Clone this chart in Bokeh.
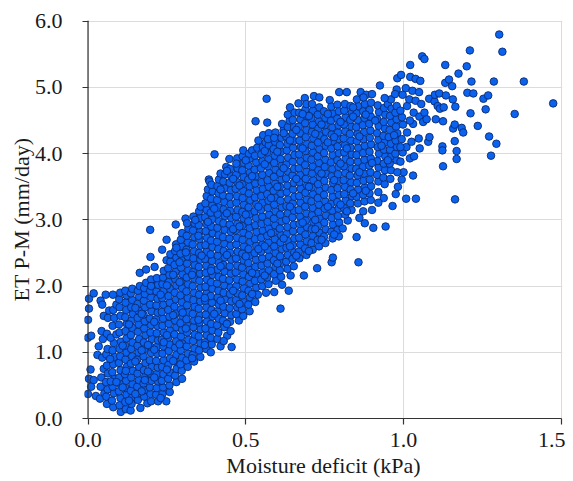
from bokeh.embed import file_html
from bokeh.resources import INLINE
from bokeh.plotting import figure
from bokeh.models import ColumnDataSource, FixedTicker, NumeralTickFormatter, Span

X_TICKS = [0.0, 0.5, 1.0, 1.5]
Y_TICKS = [0.0, 1.0, 2.0, 3.0, 4.0, 5.0, 6.0]
X_TITLE = "Moisture deficit (kPa)"
Y_TITLE = "ET P-M (mm/day)"

# (moisture deficit, ET), grouped by deficit band
band_00 = [(.003,1.81),(.018,1.89),(.003,1.66),(.0,1.49),(.0,1.22),(.01,1.25),(.034,1.09),(.04,1.78),(.045,1.72),(.056,1.87),(.008,.74),(.003,.6),(.018,.58),(.0,.37),(.01,.48),(.04,.48),(.043,1.32),(.03,.96),(.025,.34),(.038,.3),(.045,.92),(.05,1.55),(.047,1.2),(.042,.62),(.05,.75),(.052,.38)]
band_06 = [(.06,.22),(.058,.33),(.062,.44),(.057,.55),(.063,.68),(.06,.8),(.058,.97),(.062,1.05),(.06,1.28),(.063,1.52),(.067,1.63),(.08,.17),(.076,.27),(.082,.38),(.078,.48),(.083,.6),(.077,.7),(.08,.82),(.084,.93),(.078,1.03),(.082,1.14),(.078,1.4),(.083,1.52),(.08,1.64),(.079,1.87),(.072,1.22),(.07,.9),(.072,.56),(.09,1.27),(.09,1.72)]
band_10 = [(.104,.1),(.1,.2),(.103,.31),(.098,.41),(.102,.52),(.099,.62),(.103,.73),(.098,.84),(.102,.94),(.1,1.05),(.104,1.16),(.1,1.3),(.098,1.42),(.103,1.55),(.1,1.68),(.099,1.8),(.102,1.9),(.12,.14),(.118,.25),(.122,.36),(.119,.46),(.121,.57),(.117,.67),(.123,.78),(.119,.89),(.122,1.0),(.118,1.1),(.122,1.21),(.119,1.32),(.123,1.43),(.118,1.53),(.121,1.64),(.119,1.75),(.122,1.86),(.118,1.93),
 (.135,.12),(.138,.22),(.14,.32),(.136,.42),(.141,.52),(.137,.62),(.142,.72),(.136,.83),(.14,.94),(.137,1.05),(.141,1.15),(.136,1.26),(.14,1.37),(.138,1.48),(.142,1.58),(.137,1.68),(.14,1.79),(.136,1.89),(.14,1.96)]
band_16 = [(.166,.16),(.158,.28),(.16,.38),(.156,.48),(.161,.58),(.157,.68),(.162,.78),(.156,.89),(.16,1.0),(.157,1.1),(.162,1.2),(.158,1.31),(.161,1.42),(.157,1.52),(.16,1.63),(.157,1.73),(.162,1.84),(.158,1.93),(.164,2.0),(.164,2.2),
 (.188,.23),(.178,.33),(.18,.43),(.176,.53),(.181,.63),(.177,.73),(.182,.84),(.176,.94),(.18,1.05),(.177,1.15),(.182,1.26),(.178,1.36),(.18,1.47),(.176,1.57),(.181,1.68),(.177,1.78),(.18,1.88),(.178,1.97),(.184,2.05),(.184,2.25),(.197,2.85),(.198,2.44),
 (.2,.26),(.198,.37),(.196,.47),(.201,.57),(.197,.68),(.202,.78),(.196,.88),(.2,.99),(.197,1.09),(.202,1.2),(.198,1.3),(.2,1.41),(.196,1.51),(.201,1.62),(.197,1.72),(.2,1.83),(.197,1.93),(.202,2.03),(.2,2.1)]
band_22 = [(.222,.26),(.216,.36),(.218,.46),(.222,.56),(.217,.67),(.221,.77),(.216,.87),(.22,.98),(.217,1.08),(.222,1.18),(.218,1.29),(.22,1.4),(.216,1.5),(.221,1.6),(.217,1.71),(.22,1.81),(.217,1.92),(.222,2.02),(.218,2.12),(.211,2.29),
 (.248,.26),(.236,.37),(.238,.47),(.234,.57),(.239,.67),(.235,.78),(.24,.88),(.236,.98),(.239,1.09),(.234,1.19),(.24,1.3),(.236,1.4),(.238,1.51),(.234,1.61),(.239,1.72),(.235,1.82),(.24,1.93),(.236,2.03),(.238,2.13),(.24,2.23),(.235,2.55),(.249,2.7),(.249,2.39),
 (.259,.4),(.258,.5),(.254,.6),(.259,.7),(.255,.81),(.26,.91),(.256,1.02),(.259,1.12),(.254,1.22),(.26,1.33),(.256,1.43),(.258,1.54),(.254,1.64),(.259,1.75),(.255,1.85),(.26,1.96),(.256,2.06),(.258,2.17),(.254,2.27),(.261,2.37),(.261,2.48)]
band_28 = [(.28,.55),(.276,.65),(.281,.75),(.275,.86),(.28,.96),(.276,1.07),(.279,1.17),(.274,1.27),(.28,1.38),(.276,1.48),(.278,1.59),(.274,1.69),(.279,1.8),(.275,1.9),(.28,2.01),(.276,2.11),(.278,2.22),(.274,2.32),(.28,2.43),(.276,2.53),(.279,2.63),(.278,2.93),
 (.298,.6),(.297,.72),(.293,.82),(.298,.92),(.294,1.03),(.299,1.13),(.295,1.24),(.298,1.34),(.293,1.44),(.299,1.55),(.295,1.65),(.297,1.76),(.293,1.86),(.298,1.97),(.294,2.07),(.299,2.18),(.295,2.28),(.297,2.39),(.293,2.49),(.298,2.6),(.294,2.7),(.298,2.8),(.309,3.02),
 (.316,.78),(.312,.88),(.317,.98),(.313,1.09),(.318,1.19),(.314,1.3),(.317,1.4),(.312,1.5),(.318,1.61),(.314,1.71),(.316,1.82),(.312,1.92),(.317,2.03),(.313,2.13),(.318,2.24),(.314,2.34),(.316,2.45),(.312,2.55),(.317,2.66),(.313,2.76),(.318,2.87),(.314,2.95)]
band_33 = [(.336,.86),(.332,.96),(.337,1.06),(.333,1.17),(.338,1.27),(.334,1.38),(.336,1.48),(.332,1.58),(.338,1.69),(.334,1.79),(.336,1.9),(.332,2.0),(.337,2.11),(.333,2.21),(.338,2.32),(.334,2.42),(.336,2.53),(.332,2.63),(.337,2.74),(.333,2.84),(.338,2.95),(.334,3.05),
 (.356,.93),(.352,1.03),(.356,1.14),(.351,1.24),(.357,1.35),(.353,1.45),(.355,1.56),(.351,1.66),(.356,1.77),(.352,1.87),(.357,1.98),(.353,2.08),(.355,2.19),(.351,2.29),(.356,2.4),(.352,2.5),(.357,2.61),(.353,2.71),(.355,2.82),(.351,2.92),(.356,3.03),(.352,3.13),(.357,3.2),
 (.375,1.05),(.371,1.15),(.376,1.26),(.372,1.36),(.377,1.47),(.373,1.57),(.375,1.68),(.371,1.78),(.376,1.89),(.372,1.99),(.377,2.1),(.373,2.2),(.375,2.31),(.371,2.41),(.376,2.52),(.372,2.62),(.377,2.73),(.373,2.83),(.375,2.94),(.371,3.04),(.376,3.15),(.372,3.25),(.376,3.36),(.383,3.61),(.385,3.58),(.38,3.46)]
band_39 = [(.389,1.0),(.392,1.12),(.389,1.22),(.394,1.33),(.39,1.43),(.395,1.54),(.391,1.64),(.393,1.75),(.389,1.85),(.394,1.96),(.39,2.06),(.395,2.17),(.391,2.27),(.393,2.38),(.389,2.48),(.394,2.59),(.39,2.69),(.395,2.8),(.391,2.9),(.393,3.01),(.389,3.11),(.394,3.22),(.39,3.32),(.395,3.43),(.391,3.53),(.401,3.99),
 (.42,1.09),(.41,1.2),(.413,1.3),(.409,1.41),(.414,1.51),(.41,1.62),(.415,1.72),(.411,1.83),(.413,1.93),(.409,2.04),(.414,2.14),(.41,2.25),(.415,2.35),(.411,2.46),(.413,2.56),(.409,2.67),(.414,2.77),(.41,2.88),(.415,2.98),(.411,3.09),(.413,3.19),(.409,3.3),(.414,3.4),(.41,3.51),(.415,3.61),(.42,3.7),
 (.441,1.25),(.43,1.17),(.432,1.38),(.428,1.48),(.433,1.59),(.429,1.69),(.434,1.8),(.43,1.9),(.432,2.01),(.428,2.11),(.433,2.22),(.429,2.32),(.434,2.43),(.43,2.53),(.432,2.64),(.428,2.74),(.433,2.85),(.429,2.95),(.434,3.06),(.43,3.16),(.432,3.27),(.428,3.37),(.433,3.48),(.429,3.58),(.434,3.69),(.438,3.8),
 (.455,1.08),(.452,1.32),(.45,1.46),(.454,1.56),(.449,1.67),(.454,1.77),(.45,1.88),(.452,1.98),(.448,2.09),(.453,2.19),(.449,2.3),(.454,2.4),(.45,2.51),(.452,2.61),(.448,2.72),(.453,2.82),(.449,2.93),(.454,3.03),(.45,3.14),(.452,3.24),(.448,3.35),(.453,3.45),(.449,3.56),(.454,3.66),(.45,3.77),(.448,3.92)]
band_47 = [(.478,1.48),(.47,1.58),(.473,1.68),(.469,1.79),(.474,1.89),(.47,2.0),(.472,2.1),(.468,2.21),(.473,2.31),(.469,2.42),(.474,2.52),(.47,2.63),(.472,2.73),(.468,2.84),(.473,2.94),(.469,3.05),(.474,3.15),(.47,3.26),(.472,3.36),(.468,3.47),(.473,3.57),(.469,3.68),(.474,3.78),(.473,3.93),(.47,3.85),
 (.492,1.55),(.488,1.65),(.493,1.76),(.489,1.86),(.494,1.97),(.49,2.07),(.492,2.18),(.488,2.28),(.493,2.39),(.489,2.49),(.494,2.6),(.49,2.7),(.492,2.81),(.488,2.91),(.493,3.02),(.489,3.12),(.494,3.23),(.49,3.33),(.492,3.44),(.488,3.54),(.493,3.65),(.489,3.75),(.494,3.86),(.49,3.96),(.492,4.05),
 (.512,1.62),(.508,1.72),(.513,1.83),(.509,1.93),(.514,2.04),(.51,2.14),(.512,2.25),(.508,2.35),(.513,2.46),(.509,2.56),(.514,2.67),(.51,2.77),(.512,2.88),(.508,2.98),(.513,3.09),(.509,3.19),(.514,3.3),(.51,3.4),(.512,3.51),(.508,3.61),(.513,3.72),(.509,3.82),(.514,3.93),(.51,4.0),(.52,4.05),
 (.538,1.87),(.53,1.76),(.533,1.98),(.529,2.08),(.534,2.19),(.53,2.29),(.532,2.4),(.528,2.5),(.533,2.61),(.529,2.71),(.534,2.82),(.53,2.92),(.532,3.03),(.528,3.13),(.533,3.24),(.529,3.34),(.534,3.45),(.53,3.55),(.532,3.66),(.528,3.76),(.533,3.87),(.529,3.97),(.536,4.09),(.531,4.49),(.54,4.2)]
band_55 = [(.564,1.9),(.552,2.0),(.549,2.1),(.554,2.21),(.55,2.31),(.552,2.42),(.548,2.52),(.553,2.63),(.549,2.73),(.554,2.84),(.55,2.94),(.552,3.05),(.548,3.15),(.553,3.26),(.549,3.36),(.554,3.47),(.55,3.57),(.552,3.68),(.548,3.78),(.553,3.89),(.549,3.99),(.554,4.1),(.563,4.17),(.555,4.28),(.566,4.83),(.568,4.47),
 (.572,2.03),(.568,2.13),(.573,2.24),(.569,2.34),(.574,2.45),(.57,2.55),(.572,2.66),(.568,2.76),(.573,2.87),(.569,2.97),(.574,3.08),(.57,3.18),(.572,3.29),(.568,3.39),(.573,3.5),(.569,3.6),(.574,3.71),(.57,3.81),(.572,3.92),(.568,4.02),(.573,4.13),(.573,4.31),(.57,4.22),
 (.59,1.91),(.595,2.08),(.59,2.18),(.594,2.29),(.589,2.39),(.594,2.5),(.59,2.6),(.592,2.71),(.588,2.81),(.593,2.92),(.589,3.02),(.594,3.13),(.59,3.23),(.592,3.34),(.588,3.44),(.593,3.55),(.589,3.65),(.594,3.76),(.59,3.86),(.592,3.97),(.588,4.07),(.593,4.18),(.594,4.32),(.59,4.24),
 (.615,2.02),(.61,1.66),(.612,2.14),(.608,2.24),(.613,2.35),(.609,2.45),(.614,2.56),(.61,2.66),(.612,2.77),(.608,2.87),(.613,2.98),(.609,3.08),(.614,3.19),(.61,3.29),(.612,3.4),(.608,3.5),(.613,3.61),(.609,3.71),(.614,3.82),(.61,3.92),(.612,4.03),(.608,4.13),(.613,4.24),(.62,4.36),(.615,4.45)]
band_63 = [(.636,1.93),(.642,2.16),(.632,2.26),(.628,2.37),(.633,2.47),(.629,2.58),(.634,2.68),(.63,2.79),(.632,2.89),(.628,3.0),(.633,3.1),(.629,3.21),(.634,3.31),(.63,3.42),(.632,3.52),(.628,3.63),(.633,3.73),(.629,3.84),(.634,3.94),(.63,4.05),(.632,4.15),(.628,4.26),(.633,4.4),(.639,4.5),(.633,4.59),(.64,4.7),
 (.652,2.3),(.648,2.41),(.653,2.51),(.649,2.62),(.654,2.72),(.65,2.83),(.652,2.93),(.648,3.04),(.653,3.14),(.649,3.25),(.654,3.35),(.65,3.46),(.652,3.56),(.648,3.67),(.653,3.77),(.649,3.88),(.654,3.98),(.65,4.09),(.652,4.19),(.648,4.3),(.653,4.4),(.649,4.51),(.655,4.62),(.667,4.76),
 (.684,2.16),(.67,2.42),(.668,2.52),(.673,2.63),(.669,2.73),(.674,2.84),(.67,2.94),(.672,3.05),(.668,3.15),(.673,3.26),(.669,3.36),(.674,3.47),(.67,3.57),(.672,3.68),(.668,3.78),(.673,3.89),(.669,3.99),(.674,4.1),(.67,4.2),(.672,4.31),(.668,4.41),(.673,4.52),(.669,4.62),(.687,4.84),
 (.692,2.47),(.688,2.57),(.693,2.68),(.689,2.78),(.694,2.89),(.69,2.99),(.692,3.1),(.688,3.2),(.693,3.31),(.689,3.41),(.694,3.52),(.69,3.62),(.692,3.73),(.688,3.83),(.693,3.94),(.689,4.04),(.694,4.15),(.69,4.25),(.692,4.36),(.688,4.46),(.693,4.57),(.689,4.67),(.692,4.75)]
band_71 = [(.726,2.27),(.712,2.55),(.708,2.65),(.713,2.76),(.709,2.86),(.714,2.97),(.71,3.07),(.712,3.18),(.708,3.28),(.713,3.39),(.709,3.49),(.714,3.6),(.71,3.7),(.712,3.81),(.708,3.91),(.713,4.02),(.709,4.12),(.714,4.23),(.71,4.33),(.712,4.44),(.708,4.54),(.713,4.65),(.716,4.87),(.733,4.85),(.71,4.75),
 (.732,2.6),(.728,2.7),(.733,2.81),(.729,2.91),(.734,3.02),(.73,3.12),(.732,3.23),(.728,3.33),(.733,3.44),(.729,3.54),(.734,3.65),(.73,3.75),(.732,3.86),(.728,3.96),(.733,4.07),(.729,4.17),(.734,4.28),(.73,4.38),(.732,4.49),(.728,4.59),(.733,4.7),
 (.752,2.65),(.748,2.75),(.753,2.86),(.749,2.96),(.754,3.07),(.75,3.17),(.752,3.28),(.748,3.38),(.753,3.49),(.749,3.59),(.754,3.7),(.75,3.8),(.752,3.91),(.748,4.01),(.753,4.12),(.749,4.22),(.754,4.33),(.75,4.43),(.752,4.54),(.748,4.64),(.766,4.81),
 (.772,2.36),(.776,2.43),(.775,2.72),(.771,2.82),(.776,2.93),(.772,3.03),(.774,3.14),(.77,3.24),(.775,3.35),(.771,3.45),(.776,3.56),(.772,3.66),(.774,3.77),(.77,3.87),(.775,3.98),(.771,4.08),(.776,4.19),(.772,4.29),(.774,4.4),(.77,4.5),(.775,4.61),(.771,4.71),(.79,4.74),(.796,4.93)]
band_80 = [(.795,2.75),(.791,2.85),(.796,2.96),(.792,3.06),(.794,3.17),(.79,3.27),(.795,3.38),(.791,3.48),(.796,3.59),(.792,3.69),(.794,3.8),(.79,3.9),(.795,4.01),(.791,4.11),(.796,4.22),(.792,4.32),(.794,4.43),(.79,4.53),(.795,4.64),(.807,2.87),(.823,2.99),(.82,4.93),
 (.815,3.08),(.811,3.18),(.816,3.29),(.812,3.39),(.814,3.5),(.81,3.6),(.815,3.71),(.811,3.81),(.816,3.92),(.812,4.02),(.814,4.13),(.81,4.23),(.815,4.34),(.811,4.44),(.816,4.55),(.812,4.65),(.814,4.75),
 (.851,2.74),(.857,2.36),(.835,3.15),(.831,3.25),(.836,3.36),(.832,3.46),(.834,3.57),(.83,3.67),(.835,3.78),(.831,3.88),(.836,3.99),(.832,4.09),(.834,4.2),(.83,4.3),(.835,4.41),(.831,4.51),(.836,4.62),(.832,4.72),(.864,4.93),
 (.877,2.95),(.904,2.88),(.855,3.25),(.851,3.35),(.856,3.46),(.852,3.56),(.854,3.67),(.85,3.77),(.855,3.88),(.851,3.98),(.856,4.09),(.852,4.19),(.854,4.3),(.85,4.4),(.855,4.51),(.851,4.61),(.856,4.72),(.852,4.82),(.882,4.89),
 (.872,3.13),(.876,3.28),(.872,3.38),(.877,3.49),(.873,3.59),(.875,3.7),(.871,3.8),(.876,3.91),(.872,4.01),(.877,4.12),(.873,4.22),(.875,4.33),(.871,4.43),(.876,4.54),(.872,4.64),(.877,4.75),(.873,4.85)]
band_89 = [(.896,3.3),(.892,3.4),(.897,3.51),(.893,3.61),(.895,3.72),(.891,3.82),(.896,3.93),(.892,4.03),(.897,4.14),(.893,4.24),(.895,4.35),(.891,4.45),(.896,4.56),(.892,4.66),(.897,4.77),(.9,3.15),
 (.92,3.58),(.916,3.68),(.921,3.79),(.917,3.89),(.922,4.0),(.918,4.1),(.92,4.21),(.916,4.31),(.921,4.42),(.917,4.52),(.922,4.63),(.918,4.73),(.925,5.03),(.92,3.42),
 (.937,3.33),(.943,2.9),(.94,3.54),(.936,3.64),(.941,3.75),(.937,3.85),(.942,3.96),(.938,4.06),(.94,4.17),(.936,4.27),(.941,4.38),(.937,4.48),(.942,4.59),(.938,4.69),(.95,4.75),
 (.958,3.62),(.96,3.75),(.956,3.85),(.961,3.96),(.957,4.06),(.953,4.25),(.96,4.15),(.956,4.36),(.961,4.47),(.957,4.57),(.962,4.68),(.965,3.21),(.96,4.82),
 (.975,3.39),(.982,3.5),(.978,3.9),(.974,4.0),(.979,4.1),(.975,4.2),(.98,4.31),(.976,4.41),(.978,4.52),(.974,4.62),(.978,4.72),(.978,4.97),(.973,4.9),(.98,5.14),(.992,5.19)]
band_99 = [(.99,3.88),(.994,3.61),(1.0,3.72),(.997,4.02),(.994,4.22),(.998,4.44),(.995,4.55),(.99,4.65),(.997,4.89),(1.008,3.32),(1.009,4.1),(1.011,4.32),(1.011,4.72),(1.007,4.99),(1.02,3.93),(1.018,4.82),(1.021,5.34),(1.021,5.16),(1.025,4.18),(1.028,4.95),(1.03,3.67),(1.03,4.45),(1.032,4.62),(1.033,3.96),(1.038,5.13),(1.038,4.8),(1.039,3.32),(1.048,4.23),(1.049,4.93),(1.05,4.56),(1.051,4.08),(1.053,5.1),(1.056,4.75),(1.059,5.47),(1.062,4.48),(1.066,5.43),(1.066,4.62),(1.073,4.52),(1.078,4.18),(1.081,4.83),(1.082,4.25),
 (1.098,4.79),(1.099,4.89),(1.102,4.52),(1.108,4.72),(1.113,4.91),(1.115,4.68),(1.123,4.11),(1.123,4.05),(1.125,4.49),(1.125,3.81),(1.127,4.7),(1.132,5.34),(1.132,5.07),(1.134,4.88),(1.144,5.12),(1.154,5.02),(1.156,4.82),(1.157,4.38),(1.162,4.44),(1.162,4.19),(1.163,3.31),(1.164,4.71),(1.168,4.04),(1.168,3.92),(1.174,5.21),(1.184,4.39),(1.189,4.32),(1.2,5.32),(1.202,4.92),(1.21,5.56),(1.212,4.61),(1.215,5.09),(1.221,4.91),(1.235,4.42),(1.253,4.83),(1.26,4.67),(1.268,4.88),(1.271,4.26),(1.277,3.97),(1.286,5.09),(1.294,4.15),(1.303,5.8),(1.313,5.54),(1.352,4.6),(1.381,5.09),(1.474,4.76)]
# further points read between the rows above, lying on top of them
over_a = [(.11,.47),(.13,.27),(.15,.86),(.17,.41),(.19,1.11),(.13,1.42),(.15,1.67),(.17,1.03),(.21,.62),(.23,.31),(.25,1.26),(.21,1.46),(.23,1.87),(.19,.71),(.27,.87),(.29,1.12),(.25,.74),(.27,1.56),(.29,2.06),(.31,1.36),(.33,.91),(.35,1.49),(.31,2.51),(.33,2.17),(.37,1.82),(.35,2.76),(.37,1.11),(.39,2.23),(.29,2.36),(.27,2.17),(.21,1.04),(.15,.37),(.09,.55),(.11,1.1),(.17,1.58),(.25,2.01)]
over_b = [(.4,1.58),(.42,2.3),(.38,2.97),(.44,1.43),(.46,1.93),(.4,3.17),(.42,3.46),(.46,2.86),(.48,1.73),(.5,2.45),(.44,3.1),(.48,3.52),(.52,2.2),(.5,3.08),(.54,2.56),(.46,3.62),(.52,3.66),(.56,2.16),(.54,3.2),(.58,2.8),(.56,3.84),(.6,2.34),(.58,3.33),(.6,4.03),(.62,2.72),(.64,3.2),(.62,3.78),(.66,2.46),(.64,4.2),(.66,3.62),(.68,2.96),(.7,2.53),(.68,4.08),(.7,3.5),(.72,3.0),(.74,2.7),(.72,4.3),(.74,3.7),(.76,3.2),(.78,2.78),(.76,4.17),(.78,3.6),(.8,4.48),(.82,3.13),(.8,3.85),(.84,3.4),(.82,4.08),(.86,3.72),(.84,4.56),(.88,3.44),(.86,4.26),(.9,3.86),(.88,4.59),(.93,4.12),(.91,4.5),(.95,3.9),(.97,4.28),(.94,4.84),(.99,4.1),(1.02,4.5)]
over_c = [(.44,2.47),(.52,1.88),(.6,3.5),(.66,4.36),(.7,4.57),(.74,4.44),(.78,4.25),(.42,1.78),(.48,2.9),(.36,2.46),(.3,1.6),(.24,1.15),(.18,.58),(.12,.72),(.2,2.0),(.28,2.58),(.34,3.0),(.44,3.74),(.5,3.9),(.56,4.04),(.62,4.31),(.68,4.6),(.76,4.6),(.84,4.7),(.9,4.9),(.56,2.6),(.64,2.6),(.72,2.86),(.8,3.23),(.86,3.03),(.92,3.26),(.98,3.72)]

bands = [band_00, band_06, band_10, band_16, band_22, band_28, band_33, band_39, band_47, band_55, band_63, band_71, band_80, band_89, band_99, over_a, over_b, over_c]
deficit = [pt[0] for b in bands for pt in b]
et = [pt[1] for b in bands for pt in b]

p = figure(frame_width=478, frame_height=398, output_backend="svg", toolbar_location=None,
           x_range=(-0.0111, 1.5035), y_range=(0, 6.012),
           min_border_left=84, min_border_right=3, min_border_top=20, min_border_bottom=60,
           outline_line_color=None)

src = ColumnDataSource(dict(x=deficit, y=et))
p.scatter("x", "y", source=src, size=7.6, fill_color="#0b62ee", line_color="#0a2a70", line_width=0.9)

p.xgrid.ticker = FixedTicker(ticks=X_TICKS)
p.ygrid.ticker = FixedTicker(ticks=Y_TICKS)
p.xgrid.grid_line_color = "#dcdcdc"
p.ygrid.grid_line_color = "#dcdcdc"
p.xgrid.bounds = (0, 6.0)
p.ygrid.bounds = (0, 1.5)

for ax, tk in ((p.xaxis[0], X_TICKS), (p.yaxis[0], Y_TICKS)):
    ax.ticker = FixedTicker(ticks=tk)
    ax.formatter = NumeralTickFormatter(format="0.0")
    ax.major_label_text_font = "Liberation Serif"
    ax.major_label_text_font_size = "22px"
    ax.major_label_text_color = "#1a1a1a"
    ax.axis_label_text_font = "Liberation Serif"
    ax.axis_label_text_font_size = "22px"
    ax.axis_label_text_font_style = "normal"
    ax.axis_label_text_color = "#1a1a1a"
    ax.major_tick_line_color = "#333333"
    ax.major_tick_line_width = 1.2
    ax.minor_tick_line_color = None

xa, ya = p.xaxis[0], p.yaxis[0]
xa.axis_line_color = "#333333"
xa.axis_line_width = 1.2
xa.bounds = (0, 1.5)
xa.major_tick_in = 0
xa.major_tick_out = 6
xa.major_label_standoff = 8
xa.axis_label = X_TITLE
xa.axis_label_standoff = 3

ya.axis_line_color = None
ya.major_tick_in = 4
ya.major_tick_out = 2
ya.major_label_standoff = 20
ya.axis_label = Y_TITLE
ya.axis_label_standoff = -2

p.add_layout(Span(location=0, dimension="height", line_color="#333333", line_width=1.2))

open("out.html", "w").write(file_html(p, INLINE))
